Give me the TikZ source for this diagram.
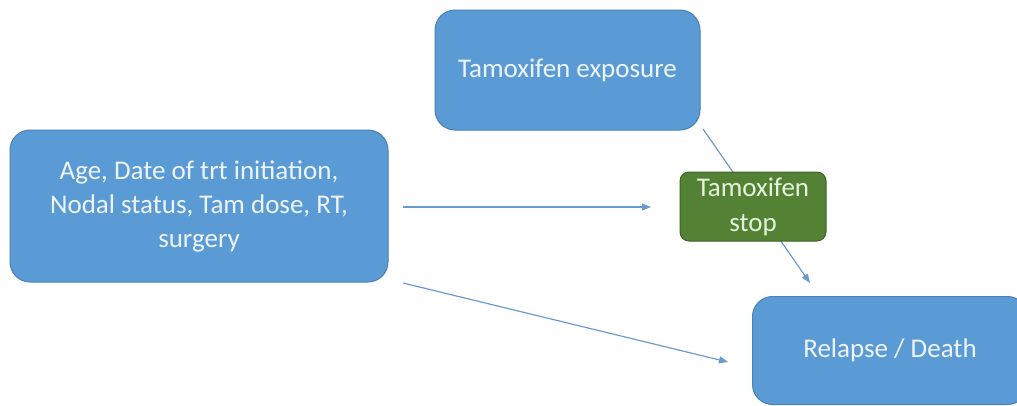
\documentclass[tikz,border=0pt]{standalone}
\usepackage{fontspec}
\setmainfont{Carlito}
\usetikzlibrary{arrows.meta}
\definecolor{boxblue}{HTML}{5B9BD5}
\definecolor{boxblueedge}{HTML}{4A80B5}
\definecolor{boxgreen}{HTML}{548235}
\definecolor{boxgreenedge}{HTML}{3F6228}
\definecolor{linkblue}{HTML}{6A9BD0}
\definecolor{bluetext}{HTML}{EEF4FB}
\definecolor{greentext}{HTML}{E6F2DD}
\begin{document}
\begin{tikzpicture}[x=1pt,y=-1pt,
  bluebox/.style={draw=boxblueedge,fill=boxblue,line width=1pt,rounded corners=20pt,text=bluetext,font=\fontsize{27}{34}\selectfont,align=center,inner sep=0pt},
  greenbox/.style={draw=boxgreenedge,fill=boxgreen,line width=1pt,rounded corners=9pt,text=greentext,font=\fontsize{27}{35}\selectfont,align=center,inner sep=0pt},
  link/.style={draw=linkblue,line width=1.2pt,-{Triangle[length=9pt,width=7pt]}}]
\useasboundingbox (0,0) rectangle (1017,405);
\fill[white] (0,0) rectangle (1017,405);
\node[bluebox,minimum width=265pt,minimum height=120pt] (expo) at (567.5,70) {Tamoxifen exposure};
\node[bluebox,minimum width=378pt,minimum height=152pt] (cov) at (199,206) {Age, Date of trt initiation,\\Nodal status, Tam dose, RT,\\surgery};
\node[bluebox,minimum width=275pt,minimum height=108pt,anchor=north west] (out) at (752,296) {};
\node[text=bluetext,font=\fontsize{27}{30}\selectfont] (outlbl) at (890,350) {Relapse / Death};
\coordinate (e1) at (703,129);
\coordinate (e2) at (810,283);
\coordinate (c1) at (403,207);
\coordinate (c2) at (651,207);
\coordinate (d1) at (403,283);
\coordinate (d2) at (728,362);
\draw[link] (e1) -- (e2);
\draw[link] (c1) -- (c2);
\draw[link] (d1) -- (d2);
\node[greenbox,minimum width=146pt,minimum height=69pt] (stop) at (753,206.5) {Tamoxifen\\stop};
\end{tikzpicture}
\end{document}
